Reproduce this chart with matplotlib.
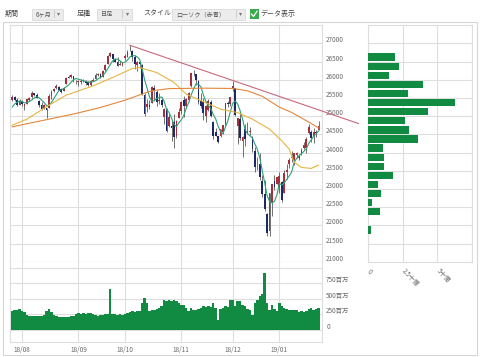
import numpy as np
import pandas as pd
import matplotlib
matplotlib.use("Agg")
import matplotlib.pyplot as plt
from matplotlib.patches import Rectangle
from matplotlib.lines import Line2D
from matplotlib.transforms import ScaledTranslation

plt.rcParams['font.family'] = ['Noto Sans CJK JP', 'DejaVu Sans']

W, H = 480, 357

# ---------- data ----------
month_labels = ['18/08', '18/09', '18/10', '18/11', '18/12', '19/01']
month_start = [4, 27, 46, 69, 90, 109]   # index of first trading day of month

opens = [25440, 25540, 25450, 25320, 25430, 25290, 25340, 25460, 25520, 25630,
         25590, 25420, 25320, 25200, 25230, 25240, 25550, 25690, 25770, 25800,
         25740, 25700, 25880, 26080, 26080, 26100, 25970, 25950, 25940, 25980,
         25960, 25930, 25860, 25970, 26030, 26140, 26150, 26090, 26260, 26440,
         26660, 26700, 26580, 26500, 26410, 26420, 26600, 26640, 26820, 26800,
         26630, 26420, 26480, 26420, 25580, 25260, 25320, 25370, 25790, 25670,
         25420, 25460, 24990, 25180, 24720, 24720, 24840, 24450, 24960, 25140,
         25440, 25280, 25440, 25830, 26180, 26150, 25960, 25420, 25390, 25010,
         25180, 25400, 24840, 24560, 24450, 24450, 24580, 24800, 25370, 25330,
         25780, 25780, 24740, 24920, 24330, 24660, 24580, 24560, 24420, 24050,
         23680, 23680, 23220, 22870, 22320, 21860, 22630, 23210, 23150, 23060,
         23180, 22890, 23470, 23680, 23850, 23790, 23940, 23860, 23970, 24120,
         24120, 24530, 24580, 24450, 24570, 24630]
highs = [25580, 25550, 25500, 25470, 25460, 25350, 25480, 25520, 25690, 25650,
         25630, 25440, 25390, 25340, 25240, 25620, 25710, 25780, 25890, 25830,
         25770, 25800, 26070, 26130, 26167, 26110, 26000, 25990, 26020, 26030,
         26010, 25960, 26000, 26040, 26180, 26200, 26190, 26280, 26430, 26680,
         26769, 26720, 26600, 26630, 26510, 26490, 26700, 26830, 26951, 26810,
         26680, 26520, 26500, 26430, 25640, 25480, 25460, 25820, 25850, 25720,
         25640, 25530, 25230, 25230, 25100, 24910, 25050, 24900, 25230, 25420,
         25550, 25500, 25660, 26190, 26277, 26160, 25990, 25630, 25500, 25320,
         25480, 25450, 24870, 24680, 24460, 24650, 24760, 25370, 25430, 25540,
         25980, 25790, 24960, 25090, 24470, 24780, 24850, 24700, 24460, 24150,
         23880, 24000, 23390, 23250, 22340, 22880, 23140, 23380, 23330, 23470,
         23210, 23520, 23690, 23860, 24040, 24000, 24010, 23970, 24120, 24290,
         24440, 24780, 24620, 24690, 24610, 24860]
lows = [25420, 25410, 25280, 25300, 25280, 25170, 25330, 25420, 25510, 25550,
        25490, 25250, 25170, 25190, 24965, 25240, 25480, 25670, 25760, 25710,
        25630, 25690, 25880, 26040, 26040, 25950, 25890, 25830, 25900, 25930,
        25860, 25830, 25820, 25960, 26030, 26120, 26050, 26080, 26250, 26430,
        26640, 26500, 26480, 26380, 26400, 26390, 26560, 26630, 26780, 26530,
        26300, 26250, 26340, 25590, 25020, 25110, 25200, 25370, 25460, 25270,
        25340, 25260, 24790, 24580, 24700, 24330, 24120, 24390, 24960, 25060,
        24990, 25240, 25420, 25800, 26120, 25870, 25350, 25240, 24900, 24850,
        25150, 24970, 24380, 24460, 24270, 24440, 24510, 24760, 25250, 25270,
        25690, 25010, 24240, 24340, 23880, 24190, 24500, 24480, 24030, 23470,
        23530, 23250, 22770, 22400, 21712, 21710, 22270, 22980, 23130, 22900,
        22640, 22890, 23280, 23570, 23750, 23660, 23860, 23790, 23930, 24090,
        24000, 24520, 24300, 24260, 24440, 24630]
closes = [25527, 25451, 25307, 25415, 25333, 25326, 25463, 25502, 25629, 25583,
          25509, 25313, 25187, 25299, 25162, 25558, 25669, 25758, 25822, 25733,
          25656, 25790, 26049, 26064, 26124, 25986, 25965, 25952, 25974, 25995,
          25916, 25857, 25971, 25998, 26145, 26154, 26062, 26246, 26405, 26657,
          26743, 26562, 26492, 26385, 26440, 26458, 26651, 26774, 26828, 26627,
          26447, 26487, 26431, 25599, 25053, 25340, 25250, 25798, 25706, 25380,
          25444, 25317, 25191, 24583, 24985, 24689, 24443, 24875, 25116, 25380,
          25271, 25462, 25635, 26181, 26191, 25989, 25388, 25287, 25081, 25290,
          25413, 25018, 24466, 24465, 24286, 24640, 24749, 25366, 25339, 25538,
          25826, 25027, 24947, 24389, 24423, 24370, 24527, 24597, 24101, 23592,
          23675, 23323, 22859, 22445, 21792, 22878, 23139, 23062, 23327, 23346,
          22686, 23433, 23531, 23787, 23879, 24001, 23996, 23910, 24065, 24207,
          24370, 24706, 24404, 24575, 24553, 24737]
prior_closes = [25058, 25044, 25241, 25414]   # closes before first candle (for 5-day MA)

# 出来高 (百万)
volume = [298, 314, 325, 336, 309, 282, 244, 228, 228, 217,
          228, 217, 228, 244, 298, 336, 282, 244, 217, 206,
          201, 201, 201, 206, 217, 228, 255, 271, 260, 271,
          260, 271, 271, 255, 244, 228, 238, 244, 249, 260,
          650, 260, 255, 244, 255, 244, 260, 271, 282, 298,
          287, 298, 298, 434, 515, 434, 298, 314, 314, 336,
          352, 379, 477, 461, 488, 461, 488, 461, 434, 406,
          406, 352, 298, 352, 325, 325, 336, 352, 379, 368,
          379, 368, 434, 352, 163, 336, 352, 379, 368, 477,
          488, 379, 461, 461, 406, 379, 336, 325, 244, 434,
          488, 542, 569, 922, 434, 325, 406, 336, 298, 434,
          379, 352, 336, 325, 325, 314, 325, 282, 298, 287,
          298, 336, 352, 325, 336, 352]

# moving averages
ma25_idx = [0, 6, 15, 22, 33, 41, 49, 52, 59, 66, 71, 78, 85, 92, 98, 105,
            110, 113, 115, 118, 122, 125]
ma25_val = [24755, 24920, 25305, 25580, 25835, 26066, 26313, 26340, 26200,
            25930, 25607, 25400, 25195, 25100, 24920, 24646, 24324, 24100,
            23740, 23594, 23566, 23657]
ma75_idx = [0, 15, 26, 36, 46, 54, 57, 64, 78, 90, 96, 102, 105, 109, 114,
            121, 125]
ma75_val = [24710, 24920, 25077, 25242, 25442, 25635, 25700, 25760, 25772,
            25764, 25700, 25550, 25423, 25250, 25105, 24840, 24680]

trend_idx = [48, 141.3]
trend_val = [26951, 24800]

# 価格帯別出来高 (十億)
vp_bins = [26500, 26250, 26000, 25750, 25500, 25250, 25000, 24750, 24500,
           24250, 24000, 23750, 23500, 23250, 23000, 22750, 22500, 22250,
           22000, 21750]
vp_vol = [1.95, 2.26, 1.54, 3.97, 2.88, 6.29, 4.29, 2.66, 2.97, 3.59, 1.11,
          1.14, 1.14, 1.81, 0.71, 0.97, 0.33, 0.86, 0.0, 0.26]

# ---------- styles ----------
GRID = '#dedede'
TXT = '#6a6a6a'
UP = '#a3303a'
DOWN = '#1d2868'
GREEN = '#118a42'
FS = 4.6


def box(l, t, r, b):
    return [l / W, 1 - b / H, (r - l) / W, (b - t) / H]


fig = plt.figure(figsize=(W / 100, H / 100), dpi=100)
fig.patch.set_facecolor('white')

up_shift = ScaledTranslation(0, 4 / 100, fig.dpi_scale_trans)
x = np.arange(len(closes))
o = np.array(opens); hi = np.array(highs); lo = np.array(lows); c = np.array(closes)

# ---------- price ----------
ax = fig.add_axes(box(10, 25.3, 322, 261.8))
ax.set_xlim(-0.9, 126.4)
ax.set_ylim(21000, 27500)
ax.set_yticks(np.arange(21000, 27501, 500))
ax.set_yticklabels([str(v) for v in range(21000, 27001, 500)] + [''])
ax.set_xticks(month_start)
ax.set_xticklabels([])
ax.grid(True, color=GRID, lw=0.8)
ax.set_axisbelow(True)
ax.yaxis.tick_right()
ax.tick_params(length=0, labelsize=FS, labelcolor=TXT, pad=3)
for lbl in ax.get_yticklabels():
    lbl.set_transform(lbl.get_transform() + up_shift)
for s in ax.spines.values():
    s.set_color(GRID)

col = np.where(c >= o, UP, DOWN)
ax.vlines(x, lo, hi, colors='#4a4a4a', lw=0.55, zorder=2)
body = np.maximum(np.abs(c - o), 14)
ax.bar(x, body, width=0.72, bottom=np.minimum(o, c), color=col, lw=0, zorder=3)

ma5 = pd.Series(prior_closes + closes).rolling(5).mean().to_numpy()[len(prior_closes):]
ax.plot(x, ma5, color='#2f9f74', lw=0.8, zorder=4)
ax.plot(ma25_idx, ma25_val, color='#e6b542', lw=0.8, zorder=4)
ax.plot(ma75_idx, ma75_val, color='#e3873b', lw=0.8, zorder=4)
ax.plot(trend_idx, trend_val, color='#c9687c', lw=0.8, zorder=5, clip_on=False)

# ---------- volume ----------
av = fig.add_axes(box(10, 261.8, 322, 342))
av.set_xlim(-0.9, 126.4)
av.set_ylim(-195, 1094)
av.bar(x, volume, width=1.0, color=GREEN, lw=0, zorder=3)
av.set_yticks([0, 250, 500, 750, 1000])
av.set_yticklabels(['0', '250百万', '500百万', '750百万', ''])
av.set_xticks(month_start)
av.set_xticklabels(month_labels)
av.grid(True, color=GRID, lw=0.8)
av.set_axisbelow(True)
av.yaxis.tick_right()
av.tick_params(length=0, labelsize=FS, labelcolor=TXT, pad=3)
for lbl in av.get_yticklabels():
    lbl.set_transform(lbl.get_transform() + up_shift)
for s in av.spines.values():
    s.set_color(GRID)
av.spines['top'].set_visible(False)

# ---------- volume by price ----------
ah = fig.add_axes(box(367.7, 25.3, 472.3, 261.8))
ah.set_xlim(0, 7.5)
ah.set_ylim(21000, 27500)
ah.barh(np.array(vp_bins) + 125, vp_vol, height=200, color=GREEN, lw=0, zorder=3)
ah.set_yticks(np.arange(21000, 27501, 500))
ah.set_yticklabels([])
ah.set_xticks([0, 2.5, 5, 7.5])
ah.set_xticklabels(['0', '2.5十億', '5十億', ''], rotation=-45, ha='left',
                   va='top', rotation_mode='anchor')
ah.grid(True, color=GRID, lw=0.8)
ah.set_axisbelow(True)
ah.tick_params(length=0, labelsize=FS, labelcolor=TXT, pad=4)
right_shift = ScaledTranslation(3 / 100, 0, fig.dpi_scale_trans)
for lbl in ah.get_xticklabels():
    lbl.set_transform(lbl.get_transform() + right_shift)
for s in ah.spines.values():
    s.set_color(GRID)

# ---------- outer frame ----------
fig.add_artist(Rectangle((3 / W, 1 - 355 / H), 474 / W, 333 / H,
                         transform=fig.transFigure, fill=False,
                         ec='#d6d6d6', lw=0.8))

# ---------- header controls ----------
HY = 1 - 14 / H
HFS = 5.0


def ftext(px, s, **kw):
    fig.text(px / W, HY, s, va='center', ha='left', color='#444444', **kw)


def dropdown(l, r, label):
    fig.add_artist(Rectangle((l / W, 1 - 19.5 / H), (r - l) / W, 11 / H,
                             transform=fig.transFigure, fc='#ececec',
                             ec='#d4d4d4', lw=0.5))
    fig.text((l + 4) / W, HY, label, va='center', ha='left',
             color='#555555', fontsize=4.4)
    fig.text((r - 10) / W, HY, '|', va='center', ha='left',
             color='#999999', fontsize=4.4)
    fig.text((r - 6) / W, HY, '▾', va='center', ha='left',
             color='#777777', fontsize=4.4, family=['DejaVu Sans'])


ftext(5, '期間', fontsize=HFS)
dropdown(31.7, 63.3, '6ヶ月')
ftext(76.7, '足種', fontsize=HFS)
dropdown(96.7, 131.7, '日足')
ftext(143.3, 'スタイル', fontsize=HFS)
dropdown(171.7, 245, 'ローソク（赤青）')
fig.add_artist(Rectangle((249.5 / W, 1 - 18.5 / H), 9 / W, 9 / H,
                         transform=fig.transFigure, fc='#3aaa4f', ec='none'))
fig.add_artist(Line2D([251.3 / W, 253.5 / W, 257 / W],
                      [1 - 14 / H, 1 - 16.5 / H, 1 - 11.2 / H],
                      transform=fig.transFigure, color='white', lw=0.9))
ftext(260, 'データ表示', fontsize=HFS)

fig.savefig('out.png', dpi=100, facecolor='white')
